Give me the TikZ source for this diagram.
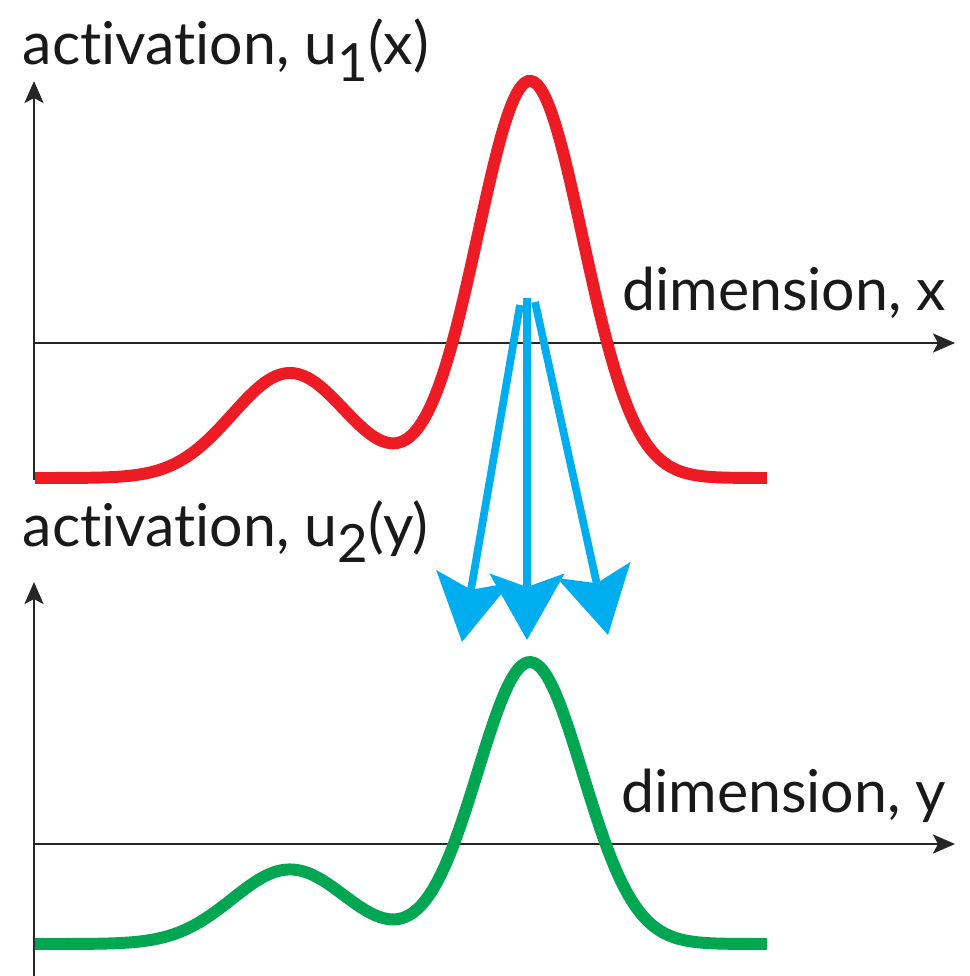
\documentclass[tikz,border=0pt]{standalone}
\usepackage{fontspec}
\setmainfont{Lato}[Ligatures=CommonOff]
\usepackage{tikz}
\usetikzlibrary{arrows.meta, positioning, calc}
\definecolor{fieldred}{RGB}{237, 28, 36}
\definecolor{fieldgreen}{RGB}{0, 166, 81}
\definecolor{fieldblue}{RGB}{0, 174, 239}
\tikzset{
    axis/.style={draw, -{Stealth[length=2.2mm, width=1.9mm, inset=0.5mm]}, line width=0.8pt, black!85},
    field/.style={draw, line width=3.4pt, #1},
    projection/.style={draw, -{Stealth[length=6.6mm, width=7.4mm, inset=1.3mm]}, line width=2.2pt, fieldblue},
    label/.style={inner sep=0pt, font=\fontsize{16.8}{20}\selectfont, black!90}
}
\newcommand{\fieldsub}[1]{\raisebox{-0.28em}{\fontsize{15}{15}\selectfont #1}}

\begin{document}
\begin{tikzpicture}[x=1cm, y=-1cm,
    declare function={act(\x) = 1.05*exp(-((\x-2.9)^2)/0.666) + 3.97*exp(-((\x-5.3)^2)/0.553);}]
    \useasboundingbox (0,0) rectangle (9.69,9.76);

    % Define macro to draw one field: axes plus activation profile
    \def\drawfield#1#2#3#4#5#6{
        % #1 name, #2 axis height, #3 curve baseline, #4 amplitude, #5 colour, #6 axis bottom
        \coordinate (#1-bot) at (0.34, #6);
        \coordinate (#1-top) at (0.34, #2-2.62);
        \coordinate (#1-o) at (0.34, #2);
        \coordinate (#1-end) at (9.55, #2);
        \draw[axis] (#1-bot) -- (#1-top);
        \draw[axis] (#1-o) -- (#1-end);
        \draw[field=#5] plot[domain=0.35:7.67, samples=240, smooth] (\x, {#3-#4*act(\x)});
    }

    % Draw the two fields
    \drawfield{u1}{3.43}{4.78}{1}{fieldred}{4.80}
    \drawfield{u2}{8.44}{9.44}{0.71}{fieldgreen}{9.76}

    % Axis labels
    \node[label, anchor=base west] (lab-u1) at (0.22, 0.65) {activation, u\fieldsub{1}(x)};
    \node[label, anchor=base east] (lab-x) at (9.47, 3.10) {dimension, x};
    \node[label, anchor=base west] (lab-u2) at (0.22, 5.46) {activation, u\fieldsub{2}(y)};
    \node[label, anchor=base east] (lab-y) at (9.47, 8.12) {dimension, y};

    % Projection from the peak in u1 onto u2
    \coordinate (src-l) at (5.20, 3.05);
    \coordinate (src-m) at (5.27, 2.98);
    \coordinate (src-r) at (5.35, 3.02);
    \coordinate (tgt-l) at (4.62, 6.42);
    \coordinate (tgt-m) at (5.27, 6.40);
    \coordinate (tgt-r) at (6.08, 6.35);
    \foreach \s in {l, m, r} {
        \draw[projection] (src-\s) -- (tgt-\s);
    }
\end{tikzpicture}
\end{document}
